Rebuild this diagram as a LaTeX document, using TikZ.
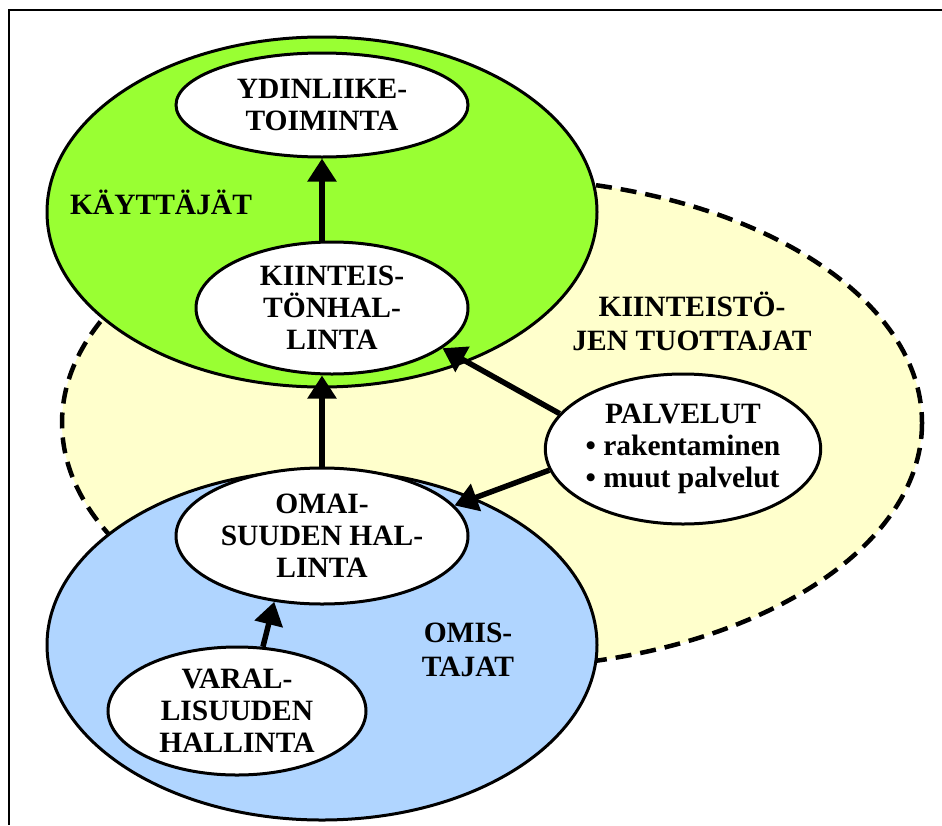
\documentclass[tikz,border=0pt]{standalone}
\usepackage{fontspec}
\setmainfont{Liberation Serif}
\usetikzlibrary{shapes,arrows.meta}
\definecolor{usergreen}{RGB}{153,255,51}
\definecolor{prodyellow}{RGB}{255,255,204}
\definecolor{ownerblue}{RGB}{176,213,255}
\tikzset{area/.style={ellipse,draw=black,line width=3pt,inner sep=0pt,minimum width=550pt,minimum height=350pt}}
\tikzset{task/.style={ellipse,draw=black,fill=white,line width=3pt,inner sep=0pt,align=center,font=\bfseries\fontsize{29.5}{32}\selectfont}}
\tikzset{grouplabel/.style={align=center,font=\bfseries\fontsize{29.5}{34}\selectfont}}
\tikzset{flow/.style={line width=5.5pt,-{Triangle[length=23pt,width=28pt]}}}

\begin{document}
\begin{tikzpicture}[x=1pt,y=-1pt]
\useasboundingbox (0,0) rectangle (942,825);
\draw[line width=1.5pt] (942,10)--(9,10)--(9,825);
% the three groups
\node (producers) at (492,423) [area,fill=prodyellow,draw=none,minimum width=860pt,minimum height=490pt] {};
\draw[line width=4.5pt,dash pattern=on 16pt off 9pt] (492,423) ellipse [x radius=430, y radius=245];
\node (users) at (322,212) [area,fill=usergreen] {};
\node (owners) at (322,645) [area,fill=ownerblue] {};
\node (userlbl) at (161,202) [grouplabel] {KÄYTTÄJÄT};
\node (prodlbl) at (692,321) [grouplabel] {KIINTEISTÖ-\\JEN TUOTTAJAT};
\node (ownerlbl) at (468,650) [grouplabel] {OMIS-\\TAJAT};
% tasks
\node (core) at (322,105) [task,minimum width=292pt,minimum height=104pt] {YDINLIIKE-\\TOIMINTA};
\node (estate) at (332,308) [task,minimum width=272pt,minimum height=132pt] {KIINTEIS-\\TÖNHAL-\\LINTA};
\node (assets) at (322,536) [task,minimum width=292pt,minimum height=136pt] {OMAI-\\SUUDEN HAL-\\LINTA};
\node (wealth) at (237,711) [task,minimum width=258pt,minimum height=128pt] {VARAL-\\LISUUDEN\\HALLINTA};
\node (services) at (683,449) [task,minimum width=270pt,minimum height=150pt] {\begin{tabular}{@{}c@{}}PALVELUT\\\begin{tabular}{@{}l@{}}• rakentaminen\\• muut palvelut\end{tabular}\end{tabular}};
% flows
\draw[flow] (estate.north -| core.south) -- (core.south);
\draw[flow] (assets.north) -- (assets.north |- estate.south);
\draw[flow] (wealth.68) -- (assets.234);
\draw[flow] (services.164) -- (estate.-20);
\draw[flow] (services.189) -- (assets.13);
\end{tikzpicture}
\end{document}
